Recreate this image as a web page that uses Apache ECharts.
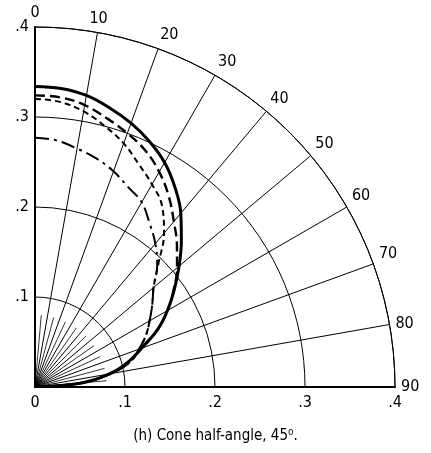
<!DOCTYPE html>
<html><head><meta charset="utf-8">
<script src="https://cdn.jsdelivr.net/npm/echarts@6/dist/echarts.min.js"></script>
<style>html,body{margin:0;padding:0;background:#fff}#c{width:431px;height:453px}</style>
</head><body><div id="c"></div>
<script>
// ---- data (angle in degrees from vertical, radius) ----
const angleTickLabels = ['0','10','20','30','40','50','60','70','80','90'];
const radiusTickLabels = ['0','.1','.2','.3','.4'];

const solidAngles = [0,5,10,15,20,25,30,35,40,45,50,55,60,65,70,75,80,85,90];
const solidRadii  = [0.334,0.333,0.329,0.321,0.312,0.301,0.288,0.271,0.252,0.230,0.209,0.189,0.170,0.150,0.126,0.107,0.084,0.052,0];

const longDashAngles = [0,5,10,15,20,25,30,35,40,45,50,55,60,65,70,75,80,85,90];
const longDashRadii  = [0.324,0.323,0.318,0.309,0.300,0.290,0.276,0.259,0.240,0.223,0.206,0.188,0.170,0.150,0.126,0.107,0.084,0.052,0];

const shortDashAngles = [0,5,10,15,20,25,30,35,40,45,50,55,60,65,70,75,80,85,90];
const shortDashRadii  = [0.320,0.318,0.311,0.300,0.288,0.273,0.260,0.246,0.223,0.194,0.172,0.159,0.147,0.136,0.123,0.110,0.086,0.052,0];

const dashDotAngles = [0,5,10,15,20,25,30,35,40,45,50,55,60,65,70,75,80,85,90];
const dashDotRadii  = [0.277,0.275,0.269,0.263,0.255,0.245,0.237,0.222,0.208,0.192,0.172,0.159,0.147,0.136,0.123,0.110,0.086,0.052,0];

const shortRayAngles = [5,15,25,35,45,55,65,75,85];
const shortRayLength = 0.08;

const caption = '(h) Cone half-angle, 45\u2070.';

// ---- chart ----
const FONT = "'Liberation Sans Narrow','DejaVu Sans Condensed','Roboto Condensed','DejaVu Sans',sans-serif";
const toPolar = (angles, radii) => angles.map((a, i) => [radii[i], a]);

const rayData = [];
shortRayAngles.forEach((a, i) => {
  if (i) rayData.push('-');
  rayData.push([0, a], [shortRayLength, a]);
});

const curve = (name, angles, radii, width, type) => ({
  name, type: 'line', coordinateSystem: 'polar', polarIndex: 0,
  data: toPolar(angles, radii), showSymbol: false, smooth: 0.4,
  lineStyle: { color: '#000', width, type }, z: 5, silent: true
});

const chart = echarts.init(document.getElementById('c'));
chart.setOption({
  animation: false,
  backgroundColor: '#fff',
  title: {
    text: caption, left: 'center', top: 424,
    textStyle: { fontFamily: FONT, fontSize: 15, fontWeight: 'normal', color: '#000' }
  },
  grid: { left: 35, top: 27, width: 360, height: 360 },
  xAxis: {
    type: 'value', min: 0, max: 0.4, interval: 0.1,
    axisLine: { lineStyle: { color: '#000', width: 2 } },
    axisTick: { show: false }, splitLine: { show: false },
    axisLabel: { color: '#000', fontFamily: FONT, fontSize: 16, margin: 8,
      formatter: (v) => radiusTickLabels[Math.round(v * 10)] }
  },
  yAxis: {
    type: 'value', min: 0, max: 0.4, interval: 0.1,
    axisLine: { lineStyle: { color: '#000', width: 2 } },
    axisTick: { show: false }, splitLine: { show: false },
    axisLabel: { color: '#000', fontFamily: FONT, fontSize: 16, margin: 6,
      formatter: (v) => v === 0 ? '' : radiusTickLabels[Math.round(v * 10)] }
  },
  polar: { center: [35, 387], radius: 360 },
  angleAxis: {
    type: 'value', min: 0, max: 90, interval: 10,
    startAngle: 90, endAngle: 0, clockwise: true,
    axisLine: { lineStyle: { color: '#000', width: 1 } },
    axisTick: { show: false },
    axisLabel: { color: '#000', fontFamily: FONT, fontSize: 16, margin: 6,
      formatter: (v) => angleTickLabels[Math.round(v / 10)] },
    splitLine: { lineStyle: { color: '#000', width: 1 } }
  },
  radiusAxis: {
    type: 'value', min: 0, max: 0.4, interval: 0.1,
    axisLine: { show: false }, axisTick: { show: false }, axisLabel: { show: false },
    splitLine: { lineStyle: { color: '#000', width: 1 } }
  },
  series: [
    { type: 'line', coordinateSystem: 'polar', data: rayData, showSymbol: false,
      connectNulls: false, lineStyle: { color: '#000', width: 0.8 }, z: 3, silent: true },
    curve('solid', solidAngles, solidRadii, 3, 'solid'),
    curve('longDash', longDashAngles, longDashRadii, 2.4, [10, 5]),
    curve('shortDash', shortDashAngles, shortDashRadii, 2, [6, 4]),
    curve('dashDot', dashDotAngles, dashDotRadii, 2, [14, 5, 3, 5])
  ]
});
</script></body></html>
